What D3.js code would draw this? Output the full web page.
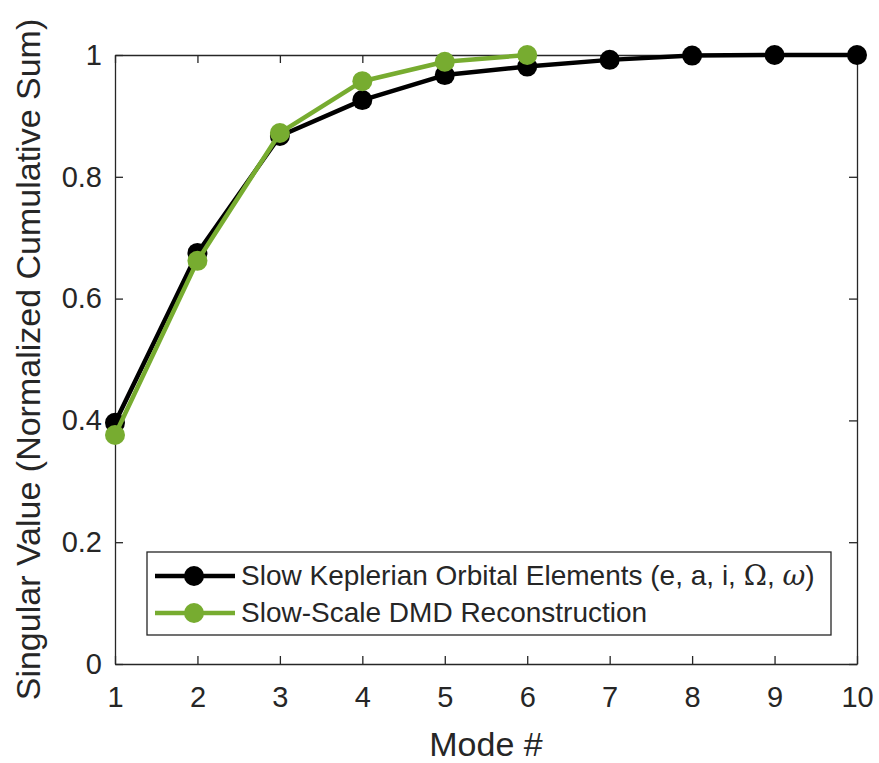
<!DOCTYPE html>
<html>
<head>
<meta charset="utf-8">
<script src="https://cdn.jsdelivr.net/npm/d3@7"></script>
<style>
  body { margin: 0; background: #fff; }
  text { font-family: "Liberation Sans", Arial, sans-serif; fill: #262626; }
</style>
</head>
<body>
<svg id="chart" width="879" height="763"></svg>
<script>
const modes = [1, 2, 3, 4, 5, 6, 7, 8, 9, 10];
const keplerian = [0.396, 0.675, 0.867, 0.926, 0.967, 0.981, 0.992, 0.999, 1.0, 1.0];
const dmdModes = [1, 2, 3, 4, 5, 6];
const dmd = [0.376, 0.662, 0.872, 0.957, 0.989, 1.0];
const yTicks = [0, 0.2, 0.4, 0.6, 0.8, 1];
const seriesNames = ['Slow Keplerian Orbital Elements', 'Slow-Scale DMD Reconstruction'];

const colorBlack = '#000000';
const colorGreen = '#77ac30';
const axisColor = '#262626';

const margin = {top: 55, right: 22, bottom: 99, left: 115};
const width = 879 - margin.left - margin.right;
const height = 763 - margin.top - margin.bottom;

const svg = d3.select('#chart');
const g = svg.append('g')
  .attr('transform', 'translate(' + margin.left + ',' + margin.top + ')');

let x = d3.scaleLinear().domain([1, 10]).range([0, width]);
let y = d3.scaleLinear().domain([0, 1]).range([height, 0]);

const tickLen = 8;

// axes, ticks inward, box on
g.append('g')
  .attr('class', 'axis axis-x')
  .attr('transform', 'translate(0,' + height + ')')
  .call(d3.axisBottom(x).tickValues(modes).tickSizeInner(-tickLen).tickSizeOuter(0).tickPadding(22).tickFormat(d3.format('d')));
g.append('g')
  .attr('class', 'axis axis-top')
  .call(d3.axisTop(x).tickValues(modes).tickSizeInner(-tickLen).tickSizeOuter(0).tickFormat(''));
g.append('g')
  .attr('class', 'axis axis-y')
  .call(d3.axisLeft(y).tickValues(yTicks).tickSizeInner(-tickLen).tickSizeOuter(0).tickPadding(13).tickFormat(d => d === 0 || d === 1 ? d3.format('d')(d) : d3.format('.1f')(d)));
g.append('g')
  .attr('class', 'axis axis-right')
  .attr('transform', 'translate(' + width + ',0)')
  .call(d3.axisRight(y).tickValues(yTicks).tickSizeInner(-tickLen).tickSizeOuter(0).tickFormat(''));

g.selectAll('.axis path').attr('stroke', axisColor).attr('stroke-width', 1.3);
g.selectAll('.axis line').attr('stroke', axisColor).attr('stroke-width', 1.3);
g.selectAll('.axis text')
  .attr('font-family', '"Liberation Sans", Arial, sans-serif')
  .attr('font-size', 29)
  .attr('fill', axisColor);

// lines
let keplerLine = d3.line()
  .x(function(d, i) { return x(modes[i]); })
  .y(function(d) { return y(d); });
let dmdLine = d3.line()
  .x(function(d, i) { return x(dmdModes[i]); })
  .y(function(d) { return y(d); });

g.append('path')
  .datum(keplerian)
  .attr('fill', 'none')
  .attr('stroke', colorBlack)
  .attr('stroke-width', 4.5)
  .attr('stroke-linejoin', 'round')
  .attr('d', keplerLine);
g.selectAll('.dot-k')
  .data(keplerian)
  .enter().append('circle')
  .attr('class', 'dot-k')
  .attr('cx', (d, i) => x(modes[i]))
  .attr('cy', d => y(d))
  .attr('r', 10)
  .attr('fill', colorBlack);

g.append('path')
  .datum(dmd)
  .attr('fill', 'none')
  .attr('stroke', colorGreen)
  .attr('stroke-width', 4.5)
  .attr('stroke-linejoin', 'round')
  .attr('d', dmdLine);
g.selectAll('.dot-d')
  .data(dmd)
  .enter().append('circle')
  .attr('class', 'dot-d')
  .attr('cx', (d, i) => x(dmdModes[i]))
  .attr('cy', d => y(d))
  .attr('r', 10)
  .attr('fill', colorGreen);

// axis labels
svg.append('text')
  .attr('x', margin.left + width / 2)
  .attr('y', 756)
  .attr('text-anchor', 'middle')
  .attr('font-size', 34)
  .text('Mode #');
svg.append('text')
  .attr('transform', 'translate(40,' + (margin.top + height / 2) + ') rotate(-90)')
  .attr('text-anchor', 'middle')
  .attr('font-size', 34)
  .text('Singular Value (Normalized Cumulative Sum)');

// legend
let legend = svg.append('g')
  .attr('class', 'legend')
  .attr('transform', 'translate(147,552)');
legend.append('rect')
  .attr('width', 684)
  .attr('height', 83)
  .attr('fill', 'white')
  .attr('stroke', axisColor)
  .attr('stroke-width', 1.3);
const legendColors = [colorBlack, colorGreen];
legendColors.forEach((c, i) => {
  let ly = 24 + i * 37;
  legend.append('line')
    .attr('x1', 8).attr('x2', 88)
    .attr('y1', ly).attr('y2', ly)
    .attr('stroke', c).attr('stroke-width', 4.5);
  legend.append('circle')
    .attr('cx', 47).attr('cy', ly).attr('r', 10)
    .attr('fill', c);
});
let t1 = legend.append('text')
  .attr('x', 94).attr('y', 33)
  .attr('font-size', 28);
t1.append('tspan').text(seriesNames[0] + ' (e, a, i, ');
t1.append('tspan').attr('font-family', '"DejaVu Serif", serif').text('Ω');
t1.append('tspan').text(', ');
t1.append('tspan').attr('font-family', '"DejaVu Serif", serif').attr('font-style', 'italic').text('ω');
t1.append('tspan').text(')');
legend.append('text')
  .attr('x', 94).attr('y', 70)
  .attr('font-size', 28)
  .text(seriesNames[1]);
</script>
</body>
</html>
